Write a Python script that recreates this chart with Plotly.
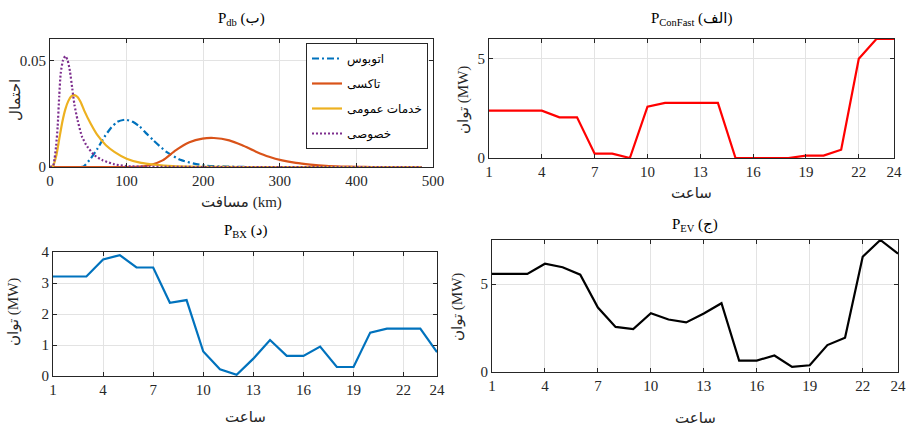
import plotly.graph_objects as go

W, H = 909, 429

# ---------------- data ----------------
hours = list(range(1, 25))
hour_ticks = [1, 4, 7, 10, 13, 16, 19, 22, 24]

p_confast = [2.39, 2.39, 2.39, 2.39, 2.05, 2.05, 0.22, 0.22, 0.0, 2.59, 2.78, 2.78,
             2.78, 2.78, 0.0, 0.0, 0.0, 0.0, 0.12, 0.12, 0.42, 5.0, 6.0, 6.0]
p_bx = [3.21, 3.21, 3.21, 3.76, 3.90, 3.50, 3.50, 2.36, 2.45, 0.79, 0.22, 0.04,
        0.56, 1.16, 0.65, 0.65, 0.95, 0.29, 0.29, 1.40, 1.53, 1.53, 1.53, 0.77]
p_ev = [5.57, 5.57, 5.57, 6.15, 5.95, 5.53, 3.66, 2.56, 2.44, 3.34, 2.98, 2.82,
        3.32, 3.91, 0.65, 0.65, 0.94, 0.29, 0.38, 1.53, 1.95, 6.55, 7.50, 6.72]

bus_km = [0, 40, 44, 53, 62, 71, 80, 88, 98, 108, 117, 125, 135, 152, 170, 188, 205, 230, 260, 485]
bus_p = [0, 0, 0.0003, 0.0039, 0.0086, 0.0141, 0.0185, 0.0212, 0.0222, 0.0212, 0.0190,
         0.0160, 0.0125, 0.0071, 0.0034, 0.0016, 0.0006, 0.0002, 0, 0]

taxi_km = [0, 100, 118, 130, 147, 164, 182, 199, 214, 234, 251, 269, 286, 303, 321, 340,
           360, 380, 400, 420, 485]
taxi_p = [0, 0, 0.0002, 0.0008, 0.0031, 0.0078, 0.0116, 0.0133, 0.0136, 0.0125, 0.0102,
          0.0072, 0.0048, 0.0031, 0.0019, 0.0011, 0.0005, 0.0002, 0.0001, 0, 0]

pub_km = [0, 4, 8, 12, 16, 20, 24, 28, 32, 36, 40, 45, 53, 62, 73, 84, 100, 119,
          136, 160, 200, 250, 485]
pub_p = [0, 0.0005, 0.005, 0.013, 0.021, 0.027, 0.031, 0.0332, 0.0337, 0.0328, 0.0305,
         0.0262, 0.0204, 0.0149, 0.0102, 0.0071, 0.0039, 0.0019, 0.0011, 0.0004,
         0.0001, 0, 0]

priv_km = [0, 4, 6, 8, 10, 12, 14, 17, 20, 23, 26, 29, 32, 36, 42, 49, 58, 69, 84, 100,
           130, 200, 485]
priv_p = [0, 0.0005, 0.004, 0.010, 0.019, 0.033, 0.044, 0.050, 0.052, 0.050, 0.045, 0.037,
          0.029, 0.022, 0.014, 0.0094, 0.0055, 0.0031, 0.0013, 0.0004, 0.0001, 0, 0]

legend_names = ["اتوبوس", "تاکسی", "خدمات عمومی", "خصوصی"]
titles = ["P<sub>db</sub> (ب)", "P<sub>ConFast</sub> (الف)", "P<sub>BX</sub> (د)", "P<sub>EV</sub> (ج)"]

# ---------------- style ----------------
SERIF = "Liberation Serif, DejaVu Serif, Noto Sans, DejaVu Sans, serif"
C_BLUE, C_ORANGE, C_YELLOW, C_PURPLE = "#0072BD", "#D95319", "#EDB120", "#7E2F8E"


def px_x(p):
    return p / W


def px_y(p):
    return 1 - p / H


fig = go.Figure()

dist = [
    (bus_km, bus_p, C_BLUE, "7px,3px,2px,3px"),
    (taxi_km, taxi_p, C_ORANGE, "solid"),
    (pub_km, pub_p, C_YELLOW, "solid"),
    (priv_km, priv_p, C_PURPLE, "2px,2px"),
]
for i, (xk, yp, col, dash) in enumerate(dist):
    fig.add_trace(go.Scatter(
        x=xk, y=yp, mode="lines", name=legend_names[i], legendgroup=f"g{i}",
        line=dict(color=col, width=2.2, dash=dash, shape="spline", smoothing=0.6),
        xaxis="x", yaxis="y", showlegend=True))

fig.add_trace(go.Scatter(x=hours, y=p_confast, mode="lines", line=dict(color="#FF0000", width=2.2),
                         xaxis="x2", yaxis="y2", showlegend=False))
fig.add_trace(go.Scatter(x=hours, y=p_bx, mode="lines", line=dict(color=C_BLUE, width=2.2),
                         xaxis="x3", yaxis="y3", showlegend=False))
fig.add_trace(go.Scatter(x=hours, y=p_ev, mode="lines", line=dict(color="#000000", width=2.2),
                         xaxis="x4", yaxis="y4", showlegend=False))

axis_common = dict(showline=True, linecolor="#262626", linewidth=1, mirror="ticks",
                   ticks="inside", ticklen=4, tickcolor="#262626", showgrid=True,
                   gridcolor="#e3e3e3", gridwidth=1, zeroline=False, automargin=False,
                   tickfont=dict(family=SERIF, size=15, color="#262626"))

boxes = {
    1: (50, 433, 39, 167),
    2: (489, 894, 39, 158),
    3: (53, 437, 252, 376),
    4: (492, 898, 240, 372),
}

layout = dict(width=W, height=H, margin=dict(l=0, r=0, t=0, b=0, autoexpand=False),
              paper_bgcolor="white", plot_bgcolor="white")

for k, (x0, x1, y0, y1) in boxes.items():
    sx = "" if k == 1 else str(k)
    xa = dict(axis_common, domain=[px_x(x0), px_x(x1)], anchor="y" + sx)
    ya = dict(axis_common, domain=[px_y(y1), px_y(y0)], anchor="x" + sx)
    if k == 1:
        xa.update(range=[0, 500], tickvals=[0, 100, 200, 300, 400, 500])
        ya.update(range=[0, 0.06], tickvals=[0, 0.05], ticktext=["0", "0.05"])
    else:
        xa.update(range=[1, 24], tickvals=hour_ticks)
        if k == 2:
            ya.update(range=[0, 6], tickvals=[0, 5])
        elif k == 3:
            ya.update(range=[0, 4], tickvals=[0, 1, 2, 3, 4])
        else:
            ya.update(range=[0, 7.5], tickvals=[0, 5])
    layout["xaxis" + sx] = xa
    layout["yaxis" + sx] = ya

layout["legend"] = dict(x=px_x(428), y=px_y(43), xanchor="right", yanchor="top",
                        bgcolor="white", bordercolor="#262626", borderwidth=1,
                        font=dict(family=SERIF, size=12, color="#000"),
                        itemwidth=30, tracegroupgap=6, traceorder="grouped")

fig.update_layout(**layout)

ann = []
title_pos = [(241, 19), (691, 19), (245, 231), (695, 225)]
for t, (xp, yp) in zip(titles, title_pos):
    ann.append(dict(text=t, x=px_x(xp), y=px_y(yp), xref="paper", yref="paper",
                    showarrow=False, xanchor="center", yanchor="middle",
                    font=dict(family=SERIF, size=15, color="#000")))

xlab = [("مسافت (km)", 241, 202), ("ساعت", 691, 193), ("ساعت", 245, 417), ("ساعت", 695, 418)]
for t, xp, yp in xlab:
    ann.append(dict(text=t, x=px_x(xp), y=px_y(yp), xref="paper", yref="paper",
                    showarrow=False, xanchor="center", yanchor="middle",
                    font=dict(family=SERIF, size=15, color="#262626")))

ylab = [("احتمال", 15, 100), ("توان (MW)", 463, 100), ("توان (MW)", 13, 312), ("توان (MW)", 457, 307)]
for t, xp, yp in ylab:
    ann.append(dict(text=t, x=px_x(xp), y=px_y(yp), xref="paper", yref="paper",
                    showarrow=False, xanchor="center", yanchor="middle", textangle=-90,
                    font=dict(family=SERIF, size=15, color="#262626")))

fig.update_layout(annotations=ann)
fig.write_html("out.html")
